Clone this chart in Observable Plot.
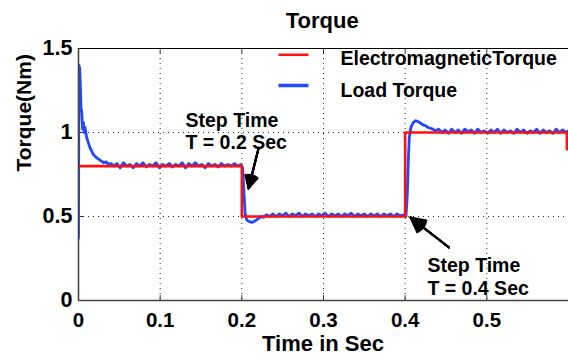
<!DOCTYPE html>
<html>
<head>
<meta charset="utf-8">
<script src="https://cdn.jsdelivr.net/npm/d3@7"></script>
<script src="https://cdn.jsdelivr.net/npm/@observablehq/plot@0.6"></script>
<style>
  html, body { margin: 0; padding: 0; background: #fff; }
  #chart { width: 568px; height: 354px; }
</style>
</head>
<body>
<div id="chart"></div>
<script>
// ---- data ----
const titleText = "Torque";
const xLabel = "Time in Sec";
const yLabel = "Torque(Nm)";

const xTicks = [0, 0.1, 0.2, 0.3, 0.4, 0.5];
const xTickLabels = ["0", "0.1", "0.2", "0.3", "0.4", "0.5"];
const yTicks = [0, 0.5, 1, 1.5];
const yTickLabels = ["0", "0.5", "1", "1.5"];
const xGrid = [0.1, 0.2, 0.3, 0.4, 0.5];
const yGrid = [0.5, 1];

const seriesNames = ["ElectromagneticTorque", "Load Torque"];

// Electromagnetic torque (red step signal)
const emTime   = [0,   0.2, 0.2, 0.4, 0.4, 0.598, 0.598];
const emTorque = [0.8, 0.8, 0.5, 0.5, 1.0, 1.0,   0.9];

// Load torque (blue, measured, noisy)
const loadTime = [
  0, 0.0005, 0.0015, 0.0025, 0.003, 0.004, 0.005, 0.006, 0.007, 0.008,
  0.010, 0.012, 0.014, 0.016, 0.018, 0.020, 0.022, 0.025, 0.028, 0.031,
  0.034, 0.037, 0.040,
  0.043, 0.047, 0.051, 0.055, 0.059, 0.063, 0.067, 0.071, 0.075, 0.079,
  0.083, 0.087, 0.091, 0.095, 0.099, 0.103, 0.107, 0.111, 0.115, 0.119,
  0.123, 0.127, 0.131, 0.135, 0.139, 0.143, 0.147, 0.151, 0.155, 0.159,
  0.163, 0.167, 0.171, 0.175, 0.179, 0.183, 0.187, 0.191, 0.195, 0.199,
  0.201, 0.2025, 0.204, 0.206, 0.209, 0.212, 0.215, 0.218, 0.221, 0.224, 0.227,
  0.230, 0.234, 0.238, 0.242, 0.246, 0.250, 0.254, 0.258, 0.262, 0.266,
  0.270, 0.274, 0.278, 0.282, 0.286, 0.290, 0.294, 0.298, 0.302, 0.306,
  0.310, 0.314, 0.318, 0.322, 0.326, 0.330, 0.334, 0.338, 0.342, 0.346,
  0.350, 0.354, 0.358, 0.362, 0.366, 0.370, 0.374, 0.378, 0.382, 0.386,
  0.390, 0.394, 0.398,
  0.401, 0.4025, 0.404, 0.405, 0.407, 0.410, 0.413, 0.416, 0.419, 0.422,
  0.425, 0.428, 0.431, 0.434,
  0.437, 0.441, 0.445, 0.449, 0.453, 0.457, 0.461, 0.465, 0.469, 0.473,
  0.477, 0.481, 0.485, 0.489, 0.493, 0.497, 0.501, 0.505, 0.509, 0.513,
  0.517, 0.521, 0.525, 0.529, 0.533, 0.537, 0.541, 0.545, 0.549, 0.553,
  0.557, 0.561, 0.565, 0.569, 0.573, 0.577, 0.581, 0.585, 0.589, 0.593,
  0.597, 0.600
];
const loadTorque = [
  0.37, 1.40, 1.38, 1.25, 1.15, 1.12, 1.02, 1.06, 1.00, 1.03,
  0.97, 0.94, 0.91, 0.89, 0.87, 0.86, 0.85, 0.84, 0.83, 0.82,
  0.825, 0.81, 0.815,
  0.80, 0.815, 0.79, 0.82, 0.80, 0.81, 0.79, 0.815, 0.80, 0.82,
  0.795, 0.81, 0.80, 0.82, 0.79, 0.81, 0.80, 0.815, 0.795, 0.81,
  0.80, 0.82, 0.79, 0.815, 0.80, 0.82, 0.80, 0.81, 0.79, 0.815,
  0.80, 0.81, 0.795, 0.815, 0.80, 0.81, 0.80, 0.815, 0.80, 0.81,
  0.79, 0.65, 0.52, 0.48, 0.47, 0.465, 0.47, 0.48, 0.49, 0.50, 0.495,
  0.51, 0.50, 0.515, 0.50, 0.515, 0.505, 0.52, 0.50, 0.515, 0.505,
  0.52, 0.50, 0.515, 0.505, 0.515, 0.50, 0.515, 0.505, 0.52, 0.50,
  0.515, 0.505, 0.515, 0.50, 0.515, 0.505, 0.52, 0.50, 0.515, 0.505,
  0.515, 0.50, 0.515, 0.505, 0.515, 0.50, 0.515, 0.505, 0.515, 0.50,
  0.515, 0.505, 0.51,
  0.50, 0.62, 0.85, 0.97, 1.03, 1.06, 1.07, 1.065, 1.055, 1.045,
  1.04, 1.03, 1.025, 1.02,
  1.01, 1.02, 1.00, 1.015, 0.995, 1.02, 1.00, 1.015, 0.995, 1.02,
  1.005, 1.015, 0.995, 1.02, 1.00, 1.01, 0.995, 1.015, 1.00, 1.02,
  0.995, 1.015, 1.00, 1.01, 0.995, 1.02, 1.00, 1.015, 0.995, 1.01,
  1.00, 1.02, 0.995, 1.015, 1.00, 1.01, 0.995, 1.02, 1.00, 1.015,
  1.00, 1.01
];

// annotations (data units)
const noteLines = [
  {t: 0.1310, v: 1.0315, text: "Step Time"},
  {t: 0.1310, v: 0.903,  text: "T = 0.2 Sec"},
  {t: 0.4273, v: 0.1685, text: "Step Time"},
  {t: 0.4273, v: 0.0357, text: "T = 0.4 Sec"}
];
const noteArrows = [
  {x1: 0.2204, y1: 0.905, x2: 0.2082, y2: 0.667},
  {x1: 0.4537, y1: 0.3155, x2: 0.4065, y2: 0.494}
];

// legend layout (data units)
const legendRows = [
  {name: seriesNames[0], color: "#ff1010", x1: 0.2449, x2: 0.2816, y: 1.4625, tx: 0.3208, ty: 1.403, w: 2.5},
  {name: seriesNames[1], color: "#1f48ff", x1: 0.2449, x2: 0.2816, y: 1.2798, tx: 0.3208, ty: 1.210, w: 3.5}
];

// ---- build ----
const load = loadTime.map((t, i) => ({t, v: loadTorque[i]}));
const em = emTime.map((t, i) => ({t, v: emTorque[i]}));

const font = "'Liberation Sans', Arial, Helvetica, sans-serif";
const W = 568, H = 354, mT = 48, mB = 54, mL = 78, mR = 0;
const plotH = H - mT - mB, plotW = W - mL - mR;

const arrowOpts = {x1: "x1", y1: "y1", x2: "x2", y2: "y2", stroke: "#000", strokeWidth: 2};

const chart = Plot.plot({
  width: W, height: H,
  marginTop: mT, marginBottom: mB, marginLeft: mL, marginRight: mR,
  style: {fontFamily: font, fontWeight: "bold", color: "#000", background: "#fff", overflow: "visible"},
  x: {domain: [0, 0.6]},
  y: {domain: [0, 1.5]},
  marks: [
    // dotted grid
    Plot.ruleX(xGrid, {stroke: "#222", strokeWidth: 1, strokeDasharray: "1,4"}),
    Plot.ruleY(yGrid, {stroke: "#222", strokeWidth: 1, strokeDasharray: "1,4"}),
    // inward ticks
    Plot.tickX(xTicks, {x: d => d, insetTop: plotH - 5, stroke: "#333"}),
    Plot.tickX(xTicks, {x: d => d, insetBottom: plotH - 5, stroke: "#333"}),
    Plot.tickY(yTicks, {y: d => d, insetRight: plotW - 5, stroke: "#333"}),
    // axes labels
    Plot.axisX({ticks: xTicks, tickFormat: d => xTickLabels[xTicks.indexOf(d)], tickSize: 0, tickPadding: 12,
      fontSize: 20.5, fontWeight: "bold", label: null}),
    Plot.axisY({ticks: yTicks, tickFormat: d => yTickLabels[yTicks.indexOf(d)], tickSize: 0, tickPadding: 6,
      fontSize: 21.5, fontWeight: "bold", label: null}),
    // data
    Plot.line(load, {x: "t", y: "v", stroke: "#1f48ff", strokeWidth: 2.8, clip: true}),
    Plot.line(em, {x: "t", y: "v", stroke: "#ff1010", strokeWidth: 2.6, clip: true}),
    // frame
    Plot.ruleY([1.5], {stroke: "#000", strokeWidth: 1.2}),
    Plot.ruleX([0], {stroke: "#444", strokeWidth: 1.6}),
    Plot.ruleY([0], {stroke: "#444", strokeWidth: 1.6}),
    // legend
    Plot.link(legendRows, {x1: "x1", x2: "x2", y1: "y", y2: "y", stroke: "color", strokeWidth: "w"}),
    Plot.text(legendRows, {x: "tx", y: "ty", text: "name", textAnchor: "start", lineAnchor: "bottom",
      fontSize: 19.5, fontWeight: "bold", fill: "#000"}),
    // annotations
    Plot.text(noteLines, {x: "t", y: "v", text: "text", textAnchor: "start", lineAnchor: "bottom",
      fontSize: 19.5, fontWeight: "bold", fill: "#000"}),
    Plot.arrow(noteArrows, {...arrowOpts, headLength: 16, headAngle: 55}),
    Plot.arrow(noteArrows, {...arrowOpts, headLength: 16, headAngle: 42}),
    Plot.arrow(noteArrows, {...arrowOpts, headLength: 15, headAngle: 30}),
    Plot.arrow(noteArrows, {...arrowOpts, headLength: 15, headAngle: 18}),
    Plot.arrow(noteArrows, {...arrowOpts, headLength: 14, headAngle: 8}),
    // title and axis titles
    Plot.text([titleText], {frameAnchor: "top", dx: -1.3, dy: -20.7, lineAnchor: "bottom",
      fontSize: 22, fontWeight: "bold", fill: "#000"}),
    Plot.text([xLabel], {frameAnchor: "bottom", dx: -0.5, dy: 50, lineAnchor: "bottom",
      fontSize: 22, fontWeight: "bold", fill: "#000"}),
    Plot.text([yLabel], {frameAnchor: "left", dx: -48, dy: -3, rotate: -90, lineAnchor: "bottom",
      fontSize: 21, fontWeight: "bold", fill: "#000"})
  ]
});
document.getElementById("chart").appendChild(chart);
</script>
</body>
</html>
